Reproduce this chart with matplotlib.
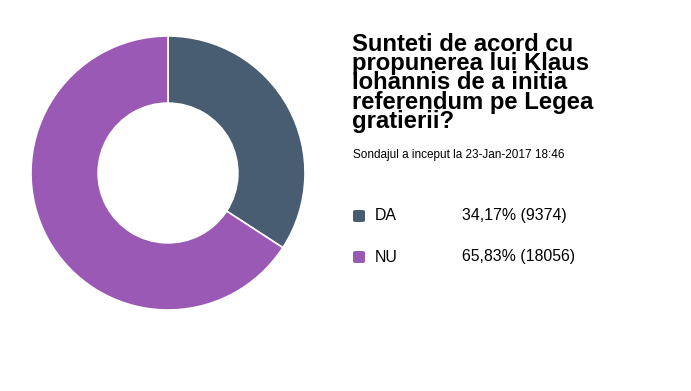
import matplotlib.pyplot as plt
from matplotlib.patches import FancyBboxPatch

# Datele sondajului
labels = ["DA", "NU"]
percents = [34.17, 65.83]
votes = [9374, 18056]
colors = ["#485c72", "#9b59b6"]

title = "Sunteti de acord cu\npropunerea lui Klaus\nIohannis de a initia\nreferendum pe Legea\ngratierii?"
subtitle = "Sondajul a inceput la 23-Jan-2017 18:46"

plt.rcParams['font.family'] = ['Liberation Sans', 'DejaVu Sans']

fig = plt.figure(figsize=(6.91, 3.91), dpi=100)

# Grafic tip gogoasa
ax = fig.add_axes([31 / 691, 1 - 310 / 391, 274 / 691, 274 / 391])
ax.pie(votes, colors=colors, startangle=90, counterclock=False,
       wedgeprops=dict(width=0.49, edgecolor="white", linewidth=1.2))
ax.set_aspect("equal")
ax.set_xlim(-1, 1)
ax.set_ylim(-1, 1)
ax.axis("off")

# Titlu si subtitlu
def fx(px):
    return px / 691

def fy(py):
    return 1 - py / 391

fig.text(fx(352), fy(33), title, fontsize=17.2, fontweight="bold",
         va="top", ha="left", linespacing=0.79, color="black")
fig.text(fx(353), fy(158), subtitle, fontsize=8.5, va="baseline", ha="left",
         color="black")

# Legenda
rows_y = [216, 257]
for i in range(len(labels)):
    yc = rows_y[i]
    box = FancyBboxPatch((fx(353), fy(yc + 6)), fx(12), 12 / 391,
                         boxstyle="round,pad=0,rounding_size=0.004",
                         transform=fig.transFigure, facecolor=colors[i],
                         edgecolor="none")
    fig.patches.append(box)
    fig.text(fx(375), fy(yc), labels[i], fontsize=11.4, va="center", ha="left")
    val = f"{percents[i]:.2f}".replace(".", ",") + f"% ({votes[i]})"
    fig.text(fx(462), fy(yc), val, fontsize=11.4, va="center", ha="left")

fig.savefig("out.png", dpi=100)
